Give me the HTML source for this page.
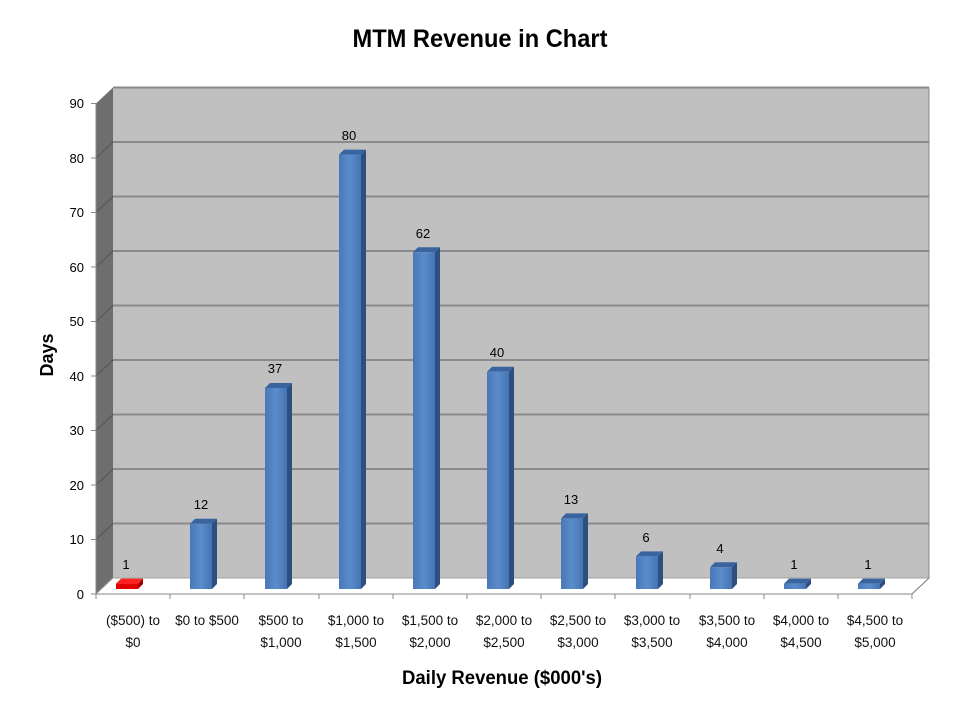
<!DOCTYPE html>
<html><head><meta charset="utf-8"><style>body{margin:0;background:#fff}svg{display:block;font-family:"Liberation Sans",sans-serif}</style></head><body>
<svg width="960" height="720" viewBox="0 0 960 720">
<defs>
<linearGradient id="bf" x1="0" x2="1"><stop offset="0" stop-color="#4a78b8"/><stop offset="0.5" stop-color="#5a8ccc"/><stop offset="1" stop-color="#4673b2"/></linearGradient>
</defs>
<text x="480" y="47" text-anchor="middle" font-size="25" font-weight="bold" textLength="255" lengthAdjust="spacingAndGlyphs">MTM Revenue in Chart</text>
<!-- back wall -->
<rect x="113" y="87.5" width="816" height="490.5" fill="#c0c0c0"/>
<!-- side wall -->
<polygon points="96,103.5 113,87.5 113,578 96,594" fill="#6e6e6e"/>
<!-- floor -->
<polygon points="96,594 113,578 929,578 912,594" fill="#ffffff" stroke="#a0a0a0" stroke-width="1"/>
<g stroke="#8a8a8a" stroke-width="2">
<line x1="113" y1="87.5" x2="929" y2="87.5"/>
<line x1="113" y1="142" x2="929" y2="142"/>
<line x1="113" y1="196.5" x2="929" y2="196.5"/>
<line x1="113" y1="251" x2="929" y2="251"/>
<line x1="113" y1="305.5" x2="929" y2="305.5"/>
<line x1="113" y1="360" x2="929" y2="360"/>
<line x1="113" y1="414.5" x2="929" y2="414.5"/>
<line x1="113" y1="469" x2="929" y2="469"/>
<line x1="113" y1="523.5" x2="929" y2="523.5"/>
</g>
<g stroke="#555" stroke-width="1">
<line x1="96" y1="158" x2="113" y2="142"/>
<line x1="96" y1="212.5" x2="113" y2="196.5"/>
<line x1="96" y1="267" x2="113" y2="251"/>
<line x1="96" y1="321.5" x2="113" y2="305.5"/>
<line x1="96" y1="376" x2="113" y2="360"/>
<line x1="96" y1="430.5" x2="113" y2="414.5"/>
<line x1="96" y1="485" x2="113" y2="469"/>
<line x1="96" y1="539.5" x2="113" y2="523.5"/>
</g>
<!-- axes -->
<g stroke="#888" stroke-width="1">
<line x1="96" y1="103.5" x2="96" y2="594"/>
<line x1="96" y1="594" x2="912" y2="594"/>
<line x1="912" y1="594" x2="929" y2="578"/>
<line x1="929" y1="87.5" x2="929" y2="578"/>
<line x1="91" y1="103.5" x2="96" y2="103.5"/><line x1="91" y1="158" x2="96" y2="158"/><line x1="91" y1="212.5" x2="96" y2="212.5"/><line x1="91" y1="267" x2="96" y2="267"/><line x1="91" y1="321.5" x2="96" y2="321.5"/><line x1="91" y1="376" x2="96" y2="376"/><line x1="91" y1="430.5" x2="96" y2="430.5"/><line x1="91" y1="485" x2="96" y2="485"/><line x1="91" y1="539.5" x2="96" y2="539.5"/><line x1="91" y1="594" x2="96" y2="594"/>
<line x1="96" y1="594" x2="96" y2="599"/><line x1="170" y1="594" x2="170" y2="599"/><line x1="244" y1="594" x2="244" y2="599"/><line x1="319" y1="594" x2="319" y2="599"/><line x1="393" y1="594" x2="393" y2="599"/><line x1="467" y1="594" x2="467" y2="599"/><line x1="541" y1="594" x2="541" y2="599"/><line x1="615" y1="594" x2="615" y2="599"/><line x1="690" y1="594" x2="690" y2="599"/><line x1="764" y1="594" x2="764" y2="599"/><line x1="838" y1="594" x2="838" y2="599"/><line x1="912" y1="594" x2="912" y2="599"/>
</g>
<g font-size="13" text-anchor="end">
<text x="84" y="108">90</text><text x="84" y="163">80</text><text x="84" y="217">70</text><text x="84" y="272">60</text><text x="84" y="326">50</text><text x="84" y="381">40</text><text x="84" y="435">30</text><text x="84" y="490">20</text><text x="84" y="544">10</text><text x="84" y="599">0</text>
</g>
<text transform="translate(53,355) rotate(-90)" text-anchor="middle" font-size="18" font-weight="bold">Days</text>
<!-- bars -->
<g>
<polygon points="116,583.6 138,583.6 143,578.6 121,578.6" fill="#ff2020"/><polygon points="138,583.6 143,578.6 143,584 138,589" fill="#a00000"/><rect x="116" y="583.6" width="22" height="5.4" fill="#e00000"/>
<polygon points="190,523.8 212,523.8 217,518.8 195,518.8" fill="#3a64a0"/><polygon points="212,523.8 217,518.8 217,584 212,589" fill="#2c4f80"/><rect x="190" y="523.8" width="22" height="65.2" fill="url(#bf)"/>
<polygon points="265,388 287,388 292,383 270,383" fill="#3a64a0"/><polygon points="287,388 292,383 292,584 287,589" fill="#2c4f80"/><rect x="265" y="388" width="22" height="201" fill="url(#bf)"/>
<polygon points="339,154.6 361,154.6 366,149.6 344,149.6" fill="#3a64a0"/><polygon points="361,154.6 366,149.6 366,584 361,589" fill="#2c4f80"/><rect x="339" y="154.6" width="22" height="434.4" fill="url(#bf)"/>
<polygon points="413,252.3 435,252.3 440,247.3 418,247.3" fill="#3a64a0"/><polygon points="435,252.3 440,247.3 440,584 435,589" fill="#2c4f80"/><rect x="413" y="252.3" width="22" height="336.7" fill="url(#bf)"/>
<polygon points="487,371.8 509,371.8 514,366.8 492,366.8" fill="#3a64a0"/><polygon points="509,371.8 514,366.8 514,584 509,589" fill="#2c4f80"/><rect x="487" y="371.8" width="22" height="217.2" fill="url(#bf)"/>
<polygon points="561,518.4 583,518.4 588,513.4 566,513.4" fill="#3a64a0"/><polygon points="583,518.4 588,513.4 588,584 583,589" fill="#2c4f80"/><rect x="561" y="518.4" width="22" height="70.6" fill="url(#bf)"/>
<polygon points="636,556.4 658,556.4 663,551.4 641,551.4" fill="#3a64a0"/><polygon points="658,556.4 663,551.4 663,584 658,589" fill="#2c4f80"/><rect x="636" y="556.4" width="22" height="32.6" fill="url(#bf)"/>
<polygon points="710,567.3 732,567.3 737,562.3 715,562.3" fill="#3a64a0"/><polygon points="732,567.3 737,562.3 737,584 732,589" fill="#2c4f80"/><rect x="710" y="567.3" width="22" height="21.7" fill="url(#bf)"/>
<polygon points="784,583.6 806,583.6 811,578.6 789,578.6" fill="#3a64a0"/><polygon points="806,583.6 811,578.6 811,584 806,589" fill="#2c4f80"/><rect x="784" y="583.6" width="22" height="5.4" fill="url(#bf)"/>
<polygon points="858,583.6 880,583.6 885,578.6 863,578.6" fill="#3a64a0"/><polygon points="880,583.6 885,578.6 885,584 880,589" fill="#2c4f80"/><rect x="858" y="583.6" width="22" height="5.4" fill="url(#bf)"/>
</g>
<g font-size="13" text-anchor="middle">
<text x="126" y="569">1</text><text x="201" y="509">12</text><text x="275" y="373">37</text><text x="349" y="140">80</text><text x="423" y="238">62</text><text x="497" y="357">40</text><text x="571" y="504">13</text><text x="646" y="542">6</text><text x="720" y="553">4</text><text x="794" y="569">1</text><text x="868" y="569">1</text>
</g>
<g font-size="13.5" text-anchor="middle" fill="#111">
<text x="133" y="625">($500) to</text><text x="133" y="647">$0</text>
<text x="207" y="625">$0 to $500</text>
<text x="281" y="625">$500 to</text><text x="281" y="647">$1,000</text>
<text x="356" y="625">$1,000 to</text><text x="356" y="647">$1,500</text>
<text x="430" y="625">$1,500 to</text><text x="430" y="647">$2,000</text>
<text x="504" y="625">$2,000 to</text><text x="504" y="647">$2,500</text>
<text x="578" y="625">$2,500 to</text><text x="578" y="647">$3,000</text>
<text x="652" y="625">$3,000 to</text><text x="652" y="647">$3,500</text>
<text x="727" y="625">$3,500 to</text><text x="727" y="647">$4,000</text>
<text x="801" y="625">$4,000 to</text><text x="801" y="647">$4,500</text>
<text x="875" y="625">$4,500 to</text><text x="875" y="647">$5,000</text>
</g>
<text x="502" y="684" text-anchor="middle" font-size="19" font-weight="bold" textLength="200" lengthAdjust="spacingAndGlyphs">Daily Revenue ($000's)</text>
</svg>
</body></html>
